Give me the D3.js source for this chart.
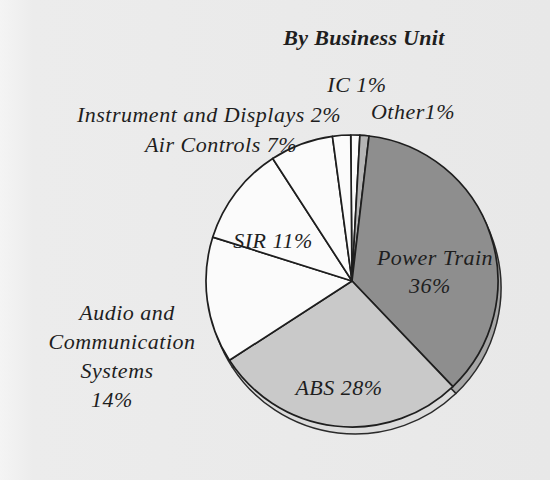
<!DOCTYPE html>
<html>
<head>
<meta charset="utf-8">
<script src="https://cdn.jsdelivr.net/npm/d3@7"></script>
<style>
  html, body { margin: 0; padding: 0; background: #ebebeb; }
  svg { display: block; }
  text { font-family: "Liberation Serif", "DejaVu Serif", serif; font-style: italic; fill: #1e1e1e; }
</style>
</head>
<body>
<svg id="chart" width="550" height="480"></svg>
<script>
// Revenue share by business unit, clockwise from the top
const units = ["IC", "Other", "Power Train", "ABS", "Audio and Communication Systems", "SIR", "Air Controls", "Instrument and Displays"];
const shares = [1, 1, 36, 28, 14, 11, 7, 2];
const labelNames = ["IC", "Other", "Power Train", "ABS", "Audio and|Communication|Systems", "SIR", "Air Controls", "Instrument and Displays"];
const title = "By Business Unit";

const W = 550, H = 480;
const cx = 352, cy = 281, R = 146;
const depth = { dx: 3, dy: 7 };

const svg = d3.select("#chart");

// paper tone
const defs = svg.append("defs");
const bg = defs.append("linearGradient").attr("id", "paper").attr("x1", 0).attr("x2", 1).attr("y1", 0).attr("y2", 0);
bg.append("stop").attr("offset", "0%").attr("stop-color", "#f4f4f4");
bg.append("stop").attr("offset", "6%").attr("stop-color", "#ececec");
bg.append("stop").attr("offset", "100%").attr("stop-color", "#e8e8e8");
svg.append("rect").attr("width", W).attr("height", H).attr("fill", "url(#paper)");

// ABS shading: lighter band through the middle of the slice
const absGrad = defs.append("linearGradient").attr("id", "absFill")
  .attr("gradientUnits", "userSpaceOnUse")
  .attr("x1", cx - R).attr("x2", cx + R).attr("y1", 0).attr("y2", 0);
absGrad.append("stop").attr("offset", "0%").attr("stop-color", "#c9c9c9");
absGrad.append("stop").attr("offset", "40%").attr("stop-color", "#d6d6d6");
absGrad.append("stop").attr("offset", "62%").attr("stop-color", "#e2e2e2");
absGrad.append("stop").attr("offset", "85%").attr("stop-color", "#cfcfcf");
absGrad.append("stop").attr("offset", "100%").attr("stop-color", "#c4c4c4");

const fillFor = name => name === "Power Train" ? "#8e8e8e"
  : name === "ABS" ? "url(#absFill)"
  : name === "Other" ? "#b4b4b4"
  : "#fbfbfb";
const rimFor = name => name === "Power Train" ? "#a6a6a6"
  : name === "ABS" ? "#dcdcdc"
  : name === "Other" ? "#c4c4c4"
  : "#f2f2f2";

const offset = -0.5 * Math.PI / 180;
const pie = d3.pie().sort(null).value(d => d.v)
  .startAngle(offset).endAngle(offset + 2 * Math.PI);
const slices = pie(units.map((u, i) => ({ name: u, v: shares[i], label: labelNames[i] })));
const arc = d3.arc().innerRadius(0).outerRadius(R);

// pie thickness: a shifted copy beneath the top face
svg.append("g").attr("transform", `translate(${cx + depth.dx},${cy + depth.dy})`)
  .selectAll("path").data(slices).join("path")
  .attr("d", arc)
  .attr("fill", d => rimFor(d.data.name))
  .attr("stroke", "#2a2a2a").attr("stroke-width", 1.5).attr("stroke-linejoin", "round");

// top face
svg.append("g").attr("transform", `translate(${cx},${cy})`)
  .selectAll("path").data(slices).join("path")
  .attr("d", arc)
  .attr("fill", d => fillFor(d.data.name))
  .attr("stroke", "#1e1e1e").attr("stroke-width", 1.7).attr("stroke-linejoin", "round");

// title
svg.append("text").attr("x", 364).attr("y", 45).attr("text-anchor", "middle")
  .attr("font-weight", "bold").attr("font-size", 22).attr("letter-spacing", 0.3).text(title);

// label placement per unit (anchor x per line, first baseline, line step)
const place = {
  "IC": { x: [357], y: 92 },
  "Other": { x: [413], y: 119 },
  "Power Train": { x: [435, 430], y: 265, step: 28 },
  "ABS": { x: [339], y: 395 },
  "Audio and Communication Systems": { x: [127, 122, 117, 112], y: 320, step: 29 },
  "SIR": { x: [273], y: 248 },
  "Air Controls": { x: [221], y: 152 },
  "Instrument and Displays": { x: [209], y: 122 }
};

const labels = svg.append("g").attr("font-size", 22).attr("letter-spacing", 0.5);
slices.forEach(d => {
  const p = place[d.data.name];
  const pct = d.data.v + "%";
  let lines;
  if (d.data.name === "Other") lines = [d.data.label + pct];
  else if (d.data.name === "Power Train") lines = [d.data.label, pct];
  else if (d.data.label.includes("|")) lines = d.data.label.split("|").concat([pct]);
  else lines = [d.data.label + " " + pct];
  const t = labels.append("text").attr("text-anchor", "middle");
  lines.forEach((ln, i) => {
    t.append("tspan").attr("x", p.x[i]).attr("y", p.y + i * (p.step || 0)).text(ln);
  });
});
</script>
</body>
</html>
